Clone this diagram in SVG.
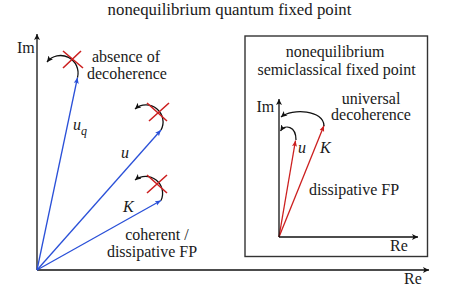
<svg xmlns="http://www.w3.org/2000/svg" width="471" height="299" viewBox="0 0 471 299" font-family="'Liberation Serif', 'DejaVu Serif', serif">
<style>
text{font-family:'Liberation Serif','DejaVu Serif',serif;font-size:16px;fill:#1a1a1a}
.it{font-style:italic}
.ax{stroke:#111;stroke-width:1.3;fill:none}
.blue{stroke:#2a50d8;stroke-width:1.3;fill:none}
.red{stroke:#cc1f1f;stroke-width:1.3;fill:none}
.arc{stroke:#111;stroke-width:1.3;fill:none}
.x{stroke:#cc2020;stroke-width:1.6;fill:none}
</style>
<defs>
<marker id="ah" markerUnits="userSpaceOnUse" markerWidth="8" markerHeight="8" refX="6" refY="3" orient="auto"><path d="M0,0 L6,3 L0,6 L1.5,3 z" fill="#111"/></marker>
<marker id="ab" markerUnits="userSpaceOnUse" markerWidth="8" markerHeight="8" refX="6" refY="3" orient="auto"><path d="M0,0.5 L6,3 L0,5.5 L1.2,3 z" fill="#2a50d8"/></marker>
<marker id="ar" markerUnits="userSpaceOnUse" markerWidth="8" markerHeight="8" refX="6" refY="3" orient="auto"><path d="M0,0.5 L6,3 L0,5.5 L1.2,3 z" fill="#cc1f1f"/></marker>
</defs>
<text x="229.5" y="15" text-anchor="middle" style="font-size:16.8px">nonequilibrium quantum fixed point</text>
<g id="left-axes">
<line class="ax" x1="37" y1="270" x2="37" y2="34" marker-end="url(#ah)"/>
<line class="ax" x1="37" y1="270" x2="429" y2="270" marker-end="url(#ah)"/>
<text x="17" y="53">Im</text>
<text x="404" y="284">Re</text>
</g>
<g id="connectors">
<line class="blue" x1="37" y1="270" x2="77.5" y2="77.5" marker-end="url(#ab)"/>
<line class="blue" x1="37" y1="270" x2="161" y2="130" marker-end="url(#ab)"/>
<line class="blue" x1="37" y1="270" x2="161" y2="200.5" marker-end="url(#ab)"/>
<path class="arc" d="M77.5,77.5 A17.5 17.5 0 0 0 47,62" marker-end="url(#ah)"/>
<path class="arc" d="M161,130 A17 17 0 0 0 135,109" marker-end="url(#ah)"/>
<path class="arc" d="M161,200.5 A17 17 0 0 0 135,180" marker-end="url(#ah)"/>
<line class="red" x1="279" y1="237" x2="295.5" y2="140.5" marker-end="url(#ar)"/>
<line class="red" x1="279" y1="237" x2="324" y2="125.5" marker-end="url(#ar)"/>
<path class="arc" d="M324,126 C324,110 292,108 281,117" marker-end="url(#ah)"/>
<path class="arc" d="M296,140 C296,126 285,124 280.5,131" marker-end="url(#ah)"/>
</g>
<g id="uq">
<path class="x" d="M63,51 L83,68 M63,68 L81,51"/>
<text class="it" x="73" y="130">u<tspan dy="5" style="font-size:12px">q</tspan></text>
<text x="92" y="62">absence of</text>
<text x="87" y="78.5">decoherence</text>
</g>
<g id="u">
<path class="x" d="M147,103 L167,121 M149,121 L169,103"/>
<text class="it" x="121" y="158">u</text>
</g>
<g id="K">
<path class="x" d="M147,175 L167,193 M147,193 L167,175"/>
<text class="it" x="123" y="211.5">K</text>
<text x="157" y="240" text-anchor="middle">coherent /</text>
<text x="152" y="256.5" text-anchor="middle">dissipative FP</text>
</g>
<g id="semiclassical-box">
<rect x="245" y="36" width="182.5" height="220.5" fill="none" stroke="#333" stroke-width="1.4"/>
<text x="335" y="57" text-anchor="middle">nonequilibrium</text>
<text x="336.5" y="75" text-anchor="middle">semiclassical fixed point</text>
<line class="ax" x1="279" y1="237" x2="279" y2="99" marker-end="url(#ah)"/>
<line class="ax" x1="279" y1="237" x2="418" y2="237" marker-end="url(#ah)"/>
<text x="256.5" y="111.5">Im</text>
<text x="390" y="250.5">Re</text>
<text x="371" y="103.5" text-anchor="middle">universal</text>
<text x="371" y="120" text-anchor="middle">decoherence</text>
<text class="it" x="298" y="153">u</text>
<text class="it" x="320" y="153">K</text>
<text x="354" y="194.5" text-anchor="middle">dissipative FP</text>
</g>
</svg>
